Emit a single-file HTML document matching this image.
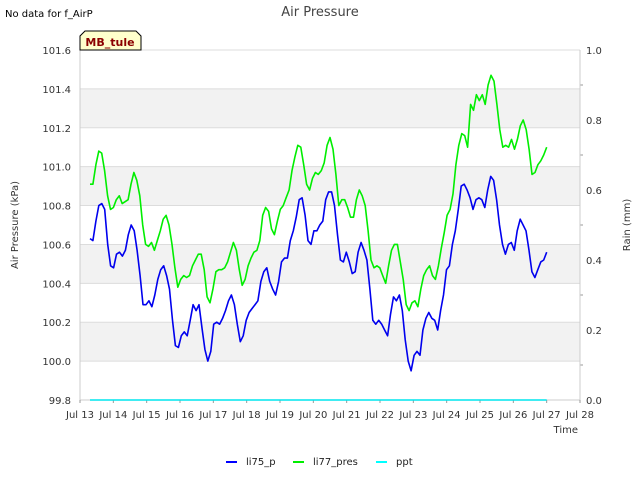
<!DOCTYPE html>
<html><head><meta charset="utf-8"><style>
body{margin:0;background:#fff;}
svg{display:block;font-family:"DejaVu Sans","Liberation Sans",sans-serif;}
</style></head><body>
<svg id="chart" width="640" height="480" viewBox="0 0 640 480">
<text x="5" y="17" font-size="10" fill="#000">No data for f_AirP</text>
<text x="320" y="16" font-size="13" fill="#444" text-anchor="middle">Air Pressure</text>
<g id="bands"></g><g id="axes"></g><g id="series"></g>
<g>
<path d="M80,50 L80,36 L85,31 L136,31 L141,36 L141,50 Z" fill="#ffffcc" stroke="#000" stroke-width="1"/>
<text x="110" y="46" font-size="11" font-weight="bold" fill="#8b0000" text-anchor="middle">MB_tule</text>
</g>
<text x="18" y="225" font-size="10" fill="#333" text-anchor="middle" transform="rotate(-90 18 225)">Air Pressure (kPa)</text>
<text x="630" y="225" font-size="10" fill="#333" text-anchor="middle" transform="rotate(-90 630 225)">Rain (mm)</text>
<text x="578" y="433" font-size="10" fill="#333" text-anchor="end">Time</text>
<g>
<g><line x1="226" y1="462" x2="237" y2="462" stroke="#0000ff" stroke-width="2"/><text x="246" y="465" font-size="10" fill="#222">li75_p</text></g>
<g><line x1="293" y1="462" x2="304" y2="462" stroke="#00ee00" stroke-width="2"/><text x="313" y="465" font-size="10" fill="#222">li77_pres</text></g>
<g><line x1="376" y1="462" x2="387" y2="462" stroke="#00ffff" stroke-width="2"/><text x="396" y="465" font-size="10" fill="#222">ppt</text></g>
</g>
</svg>
<script>
const li75 = [100.63,100.62,100.72,100.80,100.81,100.78,100.60,100.49,100.48,100.55,100.56,100.54,100.57,100.65,100.70,100.67,100.57,100.44,100.29,100.29,100.31,100.28,100.34,100.42,100.47,100.49,100.44,100.37,100.21,100.08,100.07,100.13,100.15,100.13,100.21,100.29,100.26,100.29,100.17,100.06,100.00,100.05,100.19,100.20,100.19,100.22,100.26,100.31,100.34,100.29,100.19,100.10,100.13,100.21,100.25,100.27,100.29,100.31,100.41,100.46,100.48,100.41,100.37,100.34,100.41,100.51,100.53,100.53,100.62,100.67,100.74,100.83,100.84,100.75,100.62,100.60,100.67,100.67,100.70,100.72,100.83,100.87,100.87,100.80,100.65,100.52,100.51,100.56,100.51,100.45,100.46,100.56,100.61,100.57,100.52,100.37,100.21,100.19,100.21,100.19,100.16,100.13,100.24,100.33,100.31,100.34,100.26,100.11,100.00,99.95,100.03,100.05,100.03,100.16,100.22,100.25,100.22,100.21,100.16,100.26,100.34,100.47,100.49,100.60,100.67,100.78,100.90,100.91,100.88,100.84,100.78,100.83,100.84,100.83,100.79,100.88,100.95,100.93,100.83,100.70,100.60,100.55,100.60,100.61,100.57,100.67,100.73,100.70,100.67,100.57,100.46,100.43,100.47,100.51,100.52,100.56];
const li77 = [100.91,100.91,101.01,101.08,101.07,100.98,100.85,100.78,100.79,100.83,100.85,100.81,100.82,100.83,100.91,100.97,100.93,100.85,100.70,100.60,100.59,100.61,100.57,100.62,100.67,100.73,100.75,100.70,100.60,100.48,100.38,100.42,100.44,100.43,100.44,100.49,100.52,100.55,100.55,100.47,100.33,100.30,100.37,100.46,100.47,100.47,100.48,100.51,100.56,100.61,100.57,100.47,100.39,100.42,100.49,100.53,100.56,100.57,100.62,100.75,100.79,100.77,100.68,100.65,100.72,100.78,100.80,100.84,100.88,100.98,101.05,101.11,101.10,101.01,100.91,100.88,100.94,100.97,100.96,100.98,101.02,101.11,101.15,101.09,100.96,100.80,100.83,100.83,100.79,100.74,100.74,100.83,100.88,100.85,100.80,100.67,100.52,100.48,100.49,100.48,100.44,100.40,100.49,100.57,100.60,100.60,100.51,100.42,100.29,100.26,100.30,100.31,100.28,100.37,100.44,100.47,100.49,100.44,100.42,100.49,100.58,100.66,100.75,100.78,100.86,101.01,101.11,101.17,101.16,101.10,101.32,101.29,101.37,101.34,101.37,101.32,101.42,101.47,101.44,101.32,101.19,101.10,101.11,101.10,101.14,101.09,101.14,101.21,101.24,101.19,101.09,100.96,100.97,101.01,101.03,101.06,101.10];
const pptStart = 13.3, pptEnd = 27.0;
const pptValues = [0, 0];
const seriesStart = 13.3, seriesEnd = 27.0;
const xTickDays = [13,14,15,16,17,18,19,20,21,22,23,24,25,26,27,28];
const yTicks = [99.8,100.0,100.2,100.4,100.6,100.8,101.0,101.2,101.4,101.6];
const y2Ticks = [0.0,0.2,0.4,0.6,0.8,1.0];

const NS = "http://www.w3.org/2000/svg";
const L=80, R=580, T=50, B=400;
const xS = d => L + (d-13)/15*(R-L);
const yS = v => B - (v-99.8)/1.8*(B-T);
const y2S = v => B - v*(B-T);
function mk(tag, attrs, parent){const e=document.createElementNS(NS,tag);for(const k in attrs)e.setAttribute(k,attrs[k]);parent.appendChild(e);return e;}
const bands=document.getElementById('bands'), axes=document.getElementById('axes'), series=document.getElementById('series');
mk('rect',{x:L,y:T,width:R-L,height:B-T,fill:'#fff'},bands);
for(let i=0;i<yTicks.length-1;i++){
  if(i%2===1){
    const r=mk('rect',{x:L,y:yS(yTicks[i+1]),width:R-L,height:yS(yTicks[i])-yS(yTicks[i+1]),fill:'#f2f2f2'},bands);
    
    
  }
}
yTicks.forEach(v=>{
  const g=mk('line',{x1:L,x2:R,y1:yS(v),y2:yS(v),stroke:'#dcdcdc','stroke-width':1},bands);
  
  
  const t=mk('text',{x:L-9,y:yS(v)+4,'font-size':10,fill:'#333','text-anchor':'end'},axes);
  t.textContent=v.toFixed(1);
  
  
});
y2Ticks.forEach(v=>{
  const t=mk('text',{x:R+6,y:y2S(v)+4,'font-size':10,fill:'#333'},axes);
  t.textContent=v.toFixed(1);
  
  
});
for(let v=0.1;v<1;v+=0.2){mk('line',{x1:R,x2:R+3,y1:y2S(v),y2:y2S(v),stroke:'#999'},axes);}
mk('line',{x1:L,x2:L,y1:T,y2:B,stroke:'#ccc'},axes);
mk('line',{x1:R,x2:R,y1:T,y2:B,stroke:'#ccc'},axes);
mk('line',{x1:L,x2:R,y1:B,y2:B,stroke:'#ccc'},axes);
xTickDays.forEach(d=>{
  mk('line',{x1:xS(d),x2:xS(d),y1:B,y2:B+3,stroke:'#999'},axes);
  const t=mk('text',{x:xS(d),y:B+18,'font-size':10,fill:'#333','text-anchor':'middle'},axes);
  t.textContent='Jul '+d;
  
  
});
function line(vals,start,end,color,name,ys){
  const n=vals.length;
  const pts=vals.map((v,i)=>xS(start+(end-start)*i/(n-1)).toFixed(1)+','+ys(v).toFixed(1)).join(' ');
  const p=mk('polyline',{points:pts,fill:'none',stroke:color,'stroke-width':1.6,'stroke-linejoin':'round'},series);
  
  
}
line(pptValues,pptStart,pptEnd,'#00e5ee','series-ppt',y2S);
line(li77,seriesStart,seriesEnd,'#00ee00','series-li77-pres',yS);
line(li75,seriesStart,seriesEnd,'#0000ee','series-li75-p',yS);
</script>
</body></html>
